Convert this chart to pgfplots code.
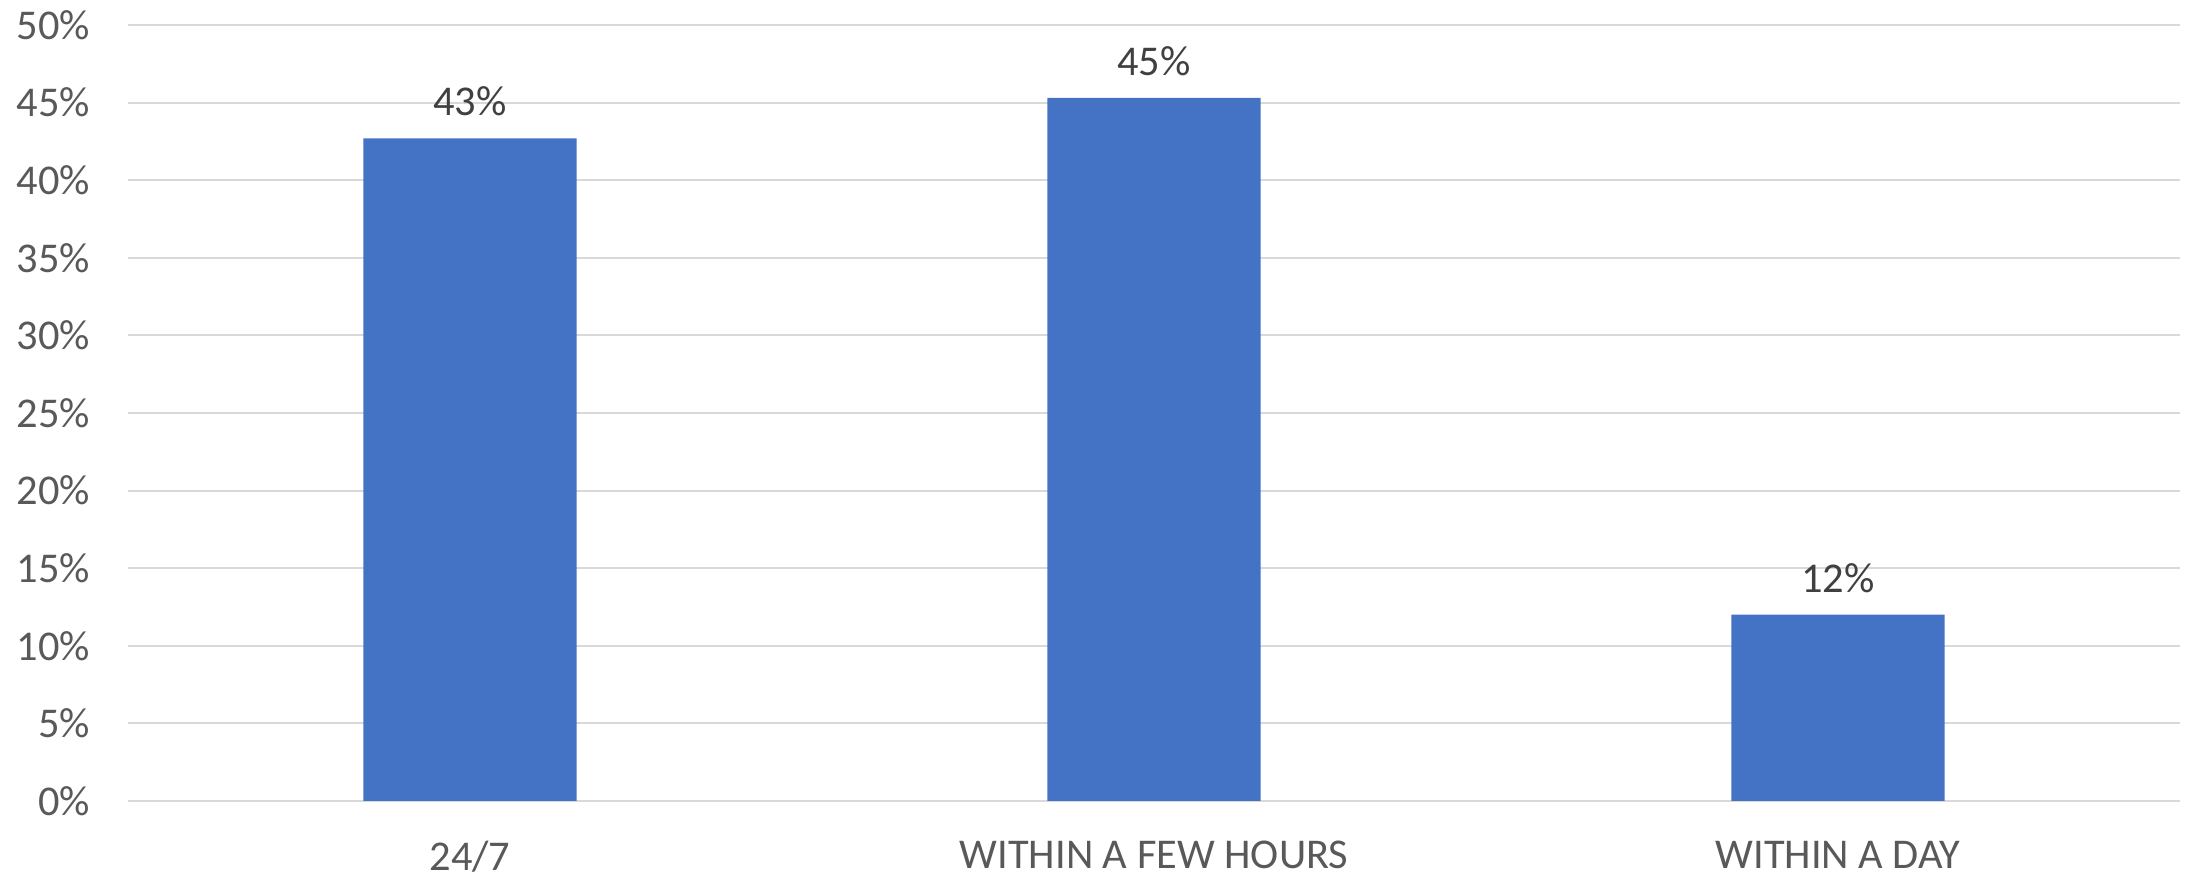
\documentclass[border=0pt]{standalone}
\usepackage{pgfplots}
\pgfplotsset{compat=1.18}
\usepackage{fontspec}
\setmainfont{Carlito}
\definecolor{barblue}{HTML}{4472C4}
\definecolor{gridgray}{HTML}{D9D9D9}
\definecolor{ticktext}{HTML}{595959}
\definecolor{valtext}{HTML}{404040}
\begin{document}
\begin{tikzpicture}
\begin{axis}[
  name=ax,
  scale only axis=true,
  width=513pt, height=194pt,
  xmin=-0.5, xmax=2.5,
  ymin=0, ymax=50,
  xtick={0,1,2},
  xticklabels={24/7, WITHIN A FEW HOURS, WITHIN A DAY},
  ytick={0,5,...,50},
  yticklabel={\pgfmathprintnumber{\tick}\%},
  /pgf/number format/assume math mode=true,
  axis line style={draw=none},
  major tick length=0pt,
  ymajorgrids=true,
  grid style={gridgray, line width=0.5pt},
  tick label style={font=\fontsize{10.6}{12}\selectfont, text=ticktext},
  yticklabel style={xshift=-6pt},
  xticklabel style={yshift=-6.5pt},
  bar width=0.312,
  nodes near coords={\pgfmathprintnumber[fixed,precision=0]{\pgfplotspointmeta}\%},
  nodes near coords style={font=\fontsize{10.6}{12}\selectfont, text=valtext, yshift=2pt},
]
\addplot[ybar, fill=barblue, draw=none] coordinates {(0,42.7) (1,45.3) (2,12.0)};
\end{axis}
\pgfresetboundingbox
\path ([xshift=-32pt,yshift=-19.25pt]ax.south west) rectangle ([xshift=2pt,yshift=6.25pt]ax.north east);
\end{tikzpicture}
\end{document}
